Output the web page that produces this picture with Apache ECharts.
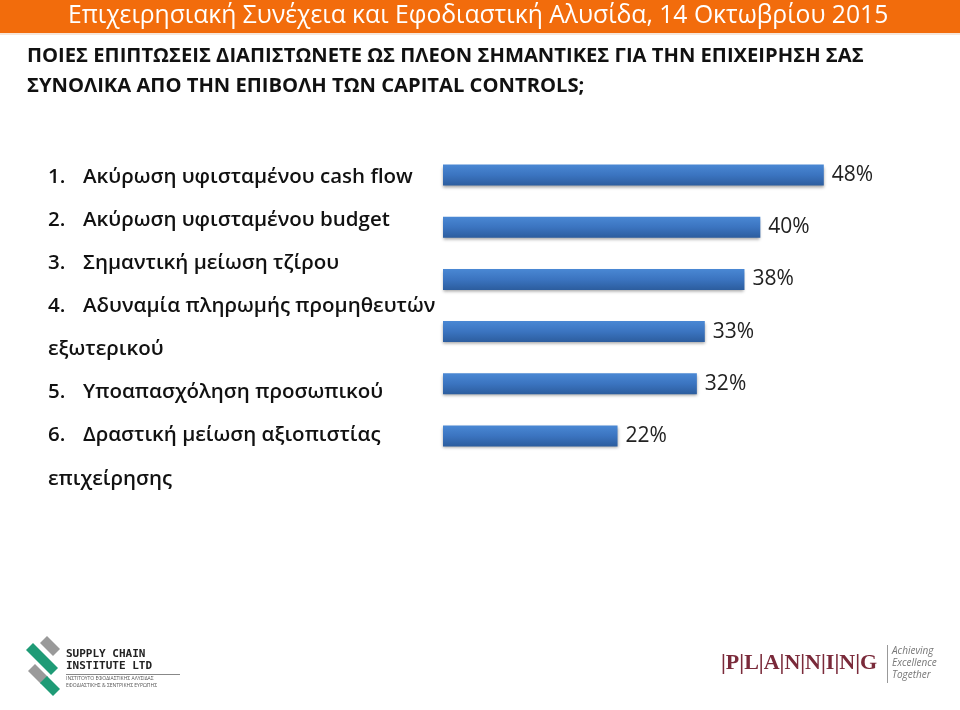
<!DOCTYPE html>
<html>
<head>
<meta charset="utf-8">
<script src="https://cdn.jsdelivr.net/npm/echarts@6/dist/echarts.min.js"></script>
<style>
  html, body { margin: 0; padding: 0; background: #fff; }
  #chart { width: 960px; height: 710px; }
</style>
</head>
<body>
<div id="chart"></div>
<script>
// data
var headerTitle = 'Επιχειρησιακή Συνέχεια και Εφοδιαστική Αλυσίδα, 14 Οκτωβρίου 2015';
var question = [
  'ΠΟΙΕΣ ΕΠΙΠΤΩΣΕΙΣ ΔΙΑΠΙΣΤΩΝΕΤΕ ΩΣ ΠΛΕΟΝ ΣΗΜΑΝΤΙΚΕΣ ΓΙΑ ΤΗΝ ΕΠΙΧΕΙΡΗΣΗ ΣΑΣ',
  'ΣΥΝΟΛΙΚΑ ΑΠΟ ΤΗΝ ΕΠΙΒΟΛΗ ΤΩΝ CAPITAL CONTROLS;'
];
var categories = [
  'Ακύρωση υφισταμένου cash flow',
  'Ακύρωση υφισταμένου budget',
  'Σημαντική μείωση τζίρου',
  'Αδυναμία πληρωμής προμηθευτών εξωτερικού',
  'Υποαπασχόληση προσωπικού',
  'Δραστική μείωση αξιοπιστίας επιχείρησης'
];
var values = [48, 40, 38, 33, 32, 22];

var FONT = '"Open Sans", "Noto Sans", sans-serif';
var ITEM_FONT = '600 20.5px ' + FONT;
var chart = echarts.init(document.getElementById('chart'));

// measure text to wrap long list items (continuation goes to the left margin)
var ctx = document.createElement('canvas').getContext('2d');
ctx.font = ITEM_FONT;
function wrap(txt, maxW) {
  var words = txt.split(' '), line = '', out = [];
  words.forEach(function (w) {
    var t = line ? line + ' ' + w : w;
    if (ctx.measureText(t).width > maxW && line) { out.push(line); line = w; }
    else line = t;
  });
  out.push(line);
  return out;
}

var graphics = [
  { type: 'rect', shape: { x: 0, y: 0, width: 960, height: 33 }, style: { fill: '#f26c0c' } },
  { type: 'rect', shape: { x: 0, y: 33, width: 960, height: 2 }, style: { fill: '#f6e6da' } },
  { type: 'text', x: 68, y: 16, style: { text: headerTitle, fill: '#fff', font: '24.7px ' + FONT, verticalAlign: 'middle' } }
];
question.forEach(function (q, i) {
  graphics.push({ type: 'text', x: 27, y: 56 + i * 30,
    style: { text: q, fill: '#111', font: 'bold 20.2px ' + FONT, verticalAlign: 'middle' } });
});
var lineY = 177;
categories.forEach(function (c, i) {
  var lines = wrap(c, 365);
  graphics.push({ type: 'text', x: 48, y: lineY, style: { text: (i + 1) + '.', fill: '#111',
    font: ITEM_FONT, verticalAlign: 'middle' } });
  lines.forEach(function (l, j) {
    graphics.push({ type: 'text', x: j === 0 ? 83 : 48, y: lineY, style: { text: l, fill: '#111',
      font: ITEM_FONT, verticalAlign: 'middle' } });
    lineY += 43.1;
  });
});

// supply chain institute logo (approximation)
graphics.push(
  { type: 'polygon', shape: { points: [[26, 650], [33, 643], [58, 668], [51, 675]] }, style: { fill: '#1f9b76' } },
  { type: 'polygon', shape: { points: [[40, 643], [47, 636], [60, 649], [53, 656]] }, style: { fill: '#9a9a9a' } },
  { type: 'polygon', shape: { points: [[28, 671], [35, 664], [48, 677], [41, 684]] }, style: { fill: '#9a9a9a' } },
  { type: 'polygon', shape: { points: [[40, 683], [47, 676], [60, 689], [53, 696]] }, style: { fill: '#1f9b76' } },
  { type: 'text', left: 66, top: 649, style: { text: 'SUPPLY CHAIN', fill: '#222', font: 'bold 11px "DejaVu Sans Mono", monospace' } },
  { type: 'text', left: 66, top: 661, style: { text: 'INSTITUTE LTD', fill: '#222', font: 'bold 11px "DejaVu Sans Mono", monospace' } },
  { type: 'rect', shape: { x: 66, y: 674, width: 114, height: 1 }, style: { fill: '#888' } },
  { type: 'text', left: 66, top: 676, style: { text: 'ΙΝΣΤΙΤΟΥΤΟ ΕΦΟΔΙΑΣΤΙΚΗΣ ΑΛΥΣΙΔΑΣ', fill: '#555', font: '5px ' + FONT } },
  { type: 'text', left: 66, top: 683, style: { text: 'ΕΦΟΔΙΑΣΤΙΚΗΣ & ΣΕΝΤΡΙΚΗΣ ΕΥΡΩΠΗΣ', fill: '#555', font: '5px ' + FONT } }
);
// planning logo (approximation)
graphics.push(
  { type: 'text', x: 721, y: 663, style: { text: '|P|L|A|N|N|I|N|G', fill: '#7a2a3a', font: 'bold 22px "Liberation Serif", serif', verticalAlign: 'middle' } },
  { type: 'rect', shape: { x: 887, y: 645, width: 1, height: 38 }, style: { fill: '#999' } },
  { type: 'text', left: 892, top: 646, style: { text: 'Achieving', fill: '#777', font: 'italic 10px ' + FONT } },
  { type: 'text', left: 892, top: 658, style: { text: 'Excellence', fill: '#777', font: 'italic 10px ' + FONT } },
  { type: 'text', left: 892, top: 670, style: { text: 'Together', fill: '#777', font: 'italic 10px ' + FONT } }
);

chart.setOption({
  backgroundColor: '#fff',
  animation: false,
  grid: { left: 443, right: 41, top: 149, bottom: 248, containLabel: false },
  xAxis: { type: 'value', min: 0, max: 60, show: false },
  yAxis: { type: 'category', data: categories, inverse: true, show: false },
  series: [{
    type: 'bar',
    data: values,
    barWidth: 21,
    itemStyle: {
      color: new echarts.graphic.LinearGradient(0, 0, 0, 1, [
        { offset: 0, color: '#4a88d4' },
        { offset: 0.5, color: '#3b74c0' },
        { offset: 1, color: '#2c5d9e' }
      ]),
      shadowColor: 'rgba(0,0,0,0.35)',
      shadowBlur: 3,
      shadowOffsetY: 2
    },
    label: {
      show: true,
      position: 'right',
      distance: 8,
      formatter: '{c}%',
      color: '#222',
      fontFamily: FONT,
      fontSize: 21
    }
  }],
  graphic: graphics
});
</script>
</body>
</html>
